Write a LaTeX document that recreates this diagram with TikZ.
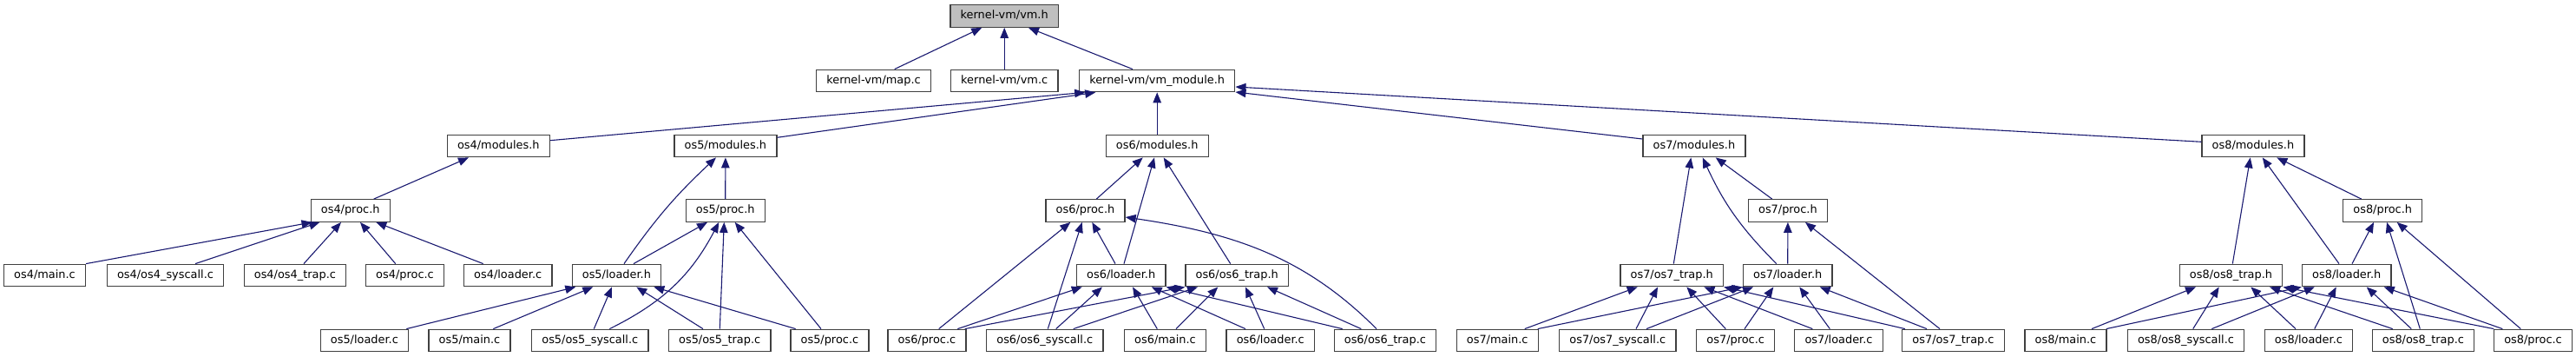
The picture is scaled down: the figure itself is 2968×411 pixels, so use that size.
\documentclass[tikz,border=0pt]{standalone}
\usepackage{fontspec}
\setmainfont{DejaVu Sans}
\usetikzlibrary{arrows.meta}
\definecolor{mblue}{HTML}{191970}
\definecolor{bgrey}{HTML}{404040}
\definecolor{rootfill}{HTML}{BFBFBF}
\tikzset{
  file/.style={draw=bgrey, line width=1.3pt, fill=white, minimum height=25.5pt,
    inner xsep=11.7pt, inner ysep=0pt, text height=9.6pt, text depth=2.6pt,
    font=\fontsize{12.9}{15}\selectfont},
  root/.style={file, fill=rootfill},
  edge/.style={draw=mblue, line width=1.1pt, -{Triangle[length=12pt,width=9.5pt]}}
}
\newcommand\E[4]{\draw[edge] ([xshift=#2pt]#1.north) -- ([xshift=#4pt]#3.south);}
\begin{document}
\begin{tikzpicture}[x=1pt,y=-1pt]
\useasboundingbox (0,0) rectangle (2968,411);
% row 0
\node[root] (vmh) at (1157.2,18.5) {kernel-vm/vm.h};
% row 1
\node[file] (mapc) at (1006.5,93) {kernel-vm/map.c};
\node[file] (vmc) at (1157.2,93) {kernel-vm/vm.c};
\node[file] (vmmod) at (1333.2,93) {kernel-vm/vm\_module.h};
% row 2
\node[file] (m4) at (574.3,168) {os4/modules.h};
\node[file] (m5) at (835.9,168) {os5/modules.h};
\node[file] (m6) at (1333.2,168) {os6/modules.h};
\node[file] (m7) at (1951.9,168) {os7/modules.h};
\node[file] (m8) at (2595.9,168) {os8/modules.h};
% row 3
\node[file] (p4) at (403.7,242.5) {os4/proc.h};
\node[file] (p5) at (835.7,242.5) {os5/proc.h};
\node[file] (p6) at (1250.5,242.5) {os6/proc.h};
\node[file] (p7) at (2059.9,242.5) {os7/proc.h};
\node[file] (p8) at (2745.2,242.5) {os8/proc.h};
% row 4
\node[file] (main4) at (51.5,317) {os4/main.c};
\node[file] (sys4) at (190.5,317) {os4/os4\_syscall.c};
\node[file] (trap4c) at (339.9,317) {os4/os4\_trap.c};
\node[file] (proc4c) at (466.5,317) {os4/proc.c};
\node[file] (loader4c) at (585.2,317) {os4/loader.c};
\node[file] (l5) at (710.4,317) {os5/loader.h};
\node[file] (l6) at (1291.7,317) {os6/loader.h};
\node[file] (t6) at (1425.2,317) {os6/os6\_trap.h};
\node[file] (t7) at (1926.2,317) {os7/os7\_trap.h};
\node[file] (l7) at (2059.7,317) {os7/loader.h};
\node[file] (t8) at (2570.5,317) {os8/os8\_trap.h};
\node[file] (l8) at (2703.7,317) {os8/loader.h};
% row 5
\node[file] (loader5c) at (419.9,392) {os5/loader.c};
\node[file] (main5c) at (541,392) {os5/main.c};
\node[file] (sys5c) at (679.8,392) {os5/os5\_syscall.c};
\node[file] (trap5c) at (829.2,392) {os5/os5\_trap.c};
\node[file] (proc5c) at (955.9,392) {os5/proc.c};
\node[file] (proc6c) at (1067.9,392) {os6/proc.c};
\node[file] (sys6c) at (1203.8,392) {os6/os6\_syscall.c};
\node[file] (main6c) at (1342.5,392) {os6/main.c};
\node[file] (loader6c) at (1463.8,392) {os6/loader.c};
\node[file] (trap6c) at (1595.9,392) {os6/os6\_trap.c};
\node[file] (main7c) at (1725.2,392) {os7/main.c};
\node[file] (sys7c) at (1863.8,392) {os7/os7\_syscall.c};
\node[file] (proc7c) at (1999.7,392) {os7/proc.c};
\node[file] (loader7c) at (2118.5,392) {os7/loader.c};
\node[file] (trap7c) at (2250.5,392) {os7/os7\_trap.c};
\node[file] (main8c) at (2379.9,392) {os8/main.c};
\node[file] (sys8c) at (2518.5,392) {os8/os8\_syscall.c};
\node[file] (loader8c) at (2659.9,392) {os8/loader.c};
\node[file] (trap8c) at (2791.9,392) {os8/os8\_trap.c};
\node[file] (proc8c) at (2918.5,392) {os8/proc.c};

% --- row1 -> vm.h
\E{mapc}{24.2}{vmh}{-26}
\E{vmc}{0}{vmh}{0}
\E{vmmod}{-28.2}{vmh}{27.8}
% --- modules -> vm_module.h
\draw[edge] ([yshift=6.3pt]m4.east) -- ([xshift=-83pt]vmmod.south);
\draw[edge] ([yshift=9.7pt]m5.east) -- ([xshift=-71pt]vmmod.south);
\E{m6}{0}{vmmod}{0}
\draw[edge] ([yshift=8pt]m7.west) -- ([yshift=-13pt]vmmod.east);
\draw[edge] ([yshift=4.7pt]m8.west) -- ([yshift=-7pt]vmmod.east);
% --- os4
\E{p4}{27}{m4}{-34.3}
\draw[edge] (main4.north east) -- ([xshift=2pt]p4.south west);
\E{sys4}{34.5}{p4}{-35.4}
\E{trap4c}{10.1}{p4}{-10.7}
\E{proc4c}{-10.8}{p4}{11.3}
\E{loader4c}{-28.5}{p4}{29.6}
% --- os5
\draw[edge] ([xshift=8.6pt]l5.north) to[bend left=6] ([xshift=-10.9pt]m5.south);
\E{p5}{0}{m5}{0}
\E{l5}{19.6}{p5}{-20.7}
\draw[edge] ([xshift=22.5pt]sys5c.north) to[bend right=18] ([xshift=-7.4pt]p5.south);
\E{trap5c}{0.1}{p5}{-1.4}
\E{proc5c}{-9.9}{p5}{11}
\E{loader5c}{48.4}{l5}{-47.1}
\E{main5c}{27.3}{l5}{-27.1}
\E{sys5c}{4.5}{l5}{-5.4}
\E{trap5c}{-19.2}{l5}{22.9}
\E{proc5c}{-39.2}{l5}{42.9}
% --- os6
\E{p6}{12.8}{m6}{-16.5}
\E{l6}{3.3}{m6}{-3.2}
\E{t6}{-7.5}{m6}{7.5}
\E{l6}{-6.7}{p6}{7.8}
\E{proc6c}{13.8}{p6}{-17.2}
\E{sys6c}{3.5}{p6}{-3.8}
\draw[edge] ([xshift=-9.9pt]trap6c.north) .. controls +(-80pt,80pt) and +(130pt,-19pt) .. ([yshift=-7.5pt]p6.east);
\E{proc6c}{35.4}{l6}{-45}
\draw[edge] ([xshift=43.8pt]proc6c.north) -- (t6.south west);
\E{sys6c}{12.9}{l6}{-21.7}
\E{sys6c}{32.9}{t6}{-45.2}
\E{main6c}{-9.2}{l6}{13.3}
\E{main6c}{12.5}{t6}{-21.9}
\E{loader6c}{-28.8}{l6}{35}
\E{loader6c}{-7.1}{t6}{9.8}
\draw[edge] ([xshift=-49.2pt]trap6c.north) -- (l6.south east);
\E{trap6c}{-27.6}{t6}{34.8}
% --- os7
\E{t7}{2.1}{m7}{-3.6}
\draw[edge] ([xshift=-13pt]l7.north) to[bend left=10] ([xshift=9.8pt]m7.south);
\E{p7}{-18.2}{m7}{24.8}
\E{l7}{0}{p7}{0}
\E{trap7c}{-15.5}{p7}{20.1}
\E{main7c}{31.5}{t7}{-39.5}
\draw[edge] ([xshift=46.5pt]main7c.north) -- (l7.south west);
\E{sys7c}{21.2}{t7}{-16.2}
\E{sys7c}{33.2}{l7}{-39.7}
\E{proc7c}{-11.4}{t7}{17.1}
\E{proc7c}{10.3}{l7}{-16.4}
\E{loader7c}{-30.2}{t7}{37.1}
\E{loader7c}{-10.2}{l7}{13.6}
\draw[edge] ([xshift=-55.5pt]trap7c.north) -- (t7.south east);
\E{trap7c}{-30.5}{l7}{37}
% --- os8
\E{t8}{1.8}{m8}{-3.2}
\E{l8}{-8.7}{m8}{10.8}
\E{p8}{-24.5}{m8}{27.4}
\E{l8}{6.3}{p8}{-10.2}
\E{trap8c}{-3.6}{p8}{4.8}
\E{proc8c}{-14.2}{p8}{16.5}
\E{main8c}{30.1}{t8}{-40.5}
\draw[edge] ([xshift=46.8pt]main8c.north) -- (l8.south west);
\E{sys8c}{8.2}{t8}{-13.8}
\E{sys8c}{29.8}{l8}{-37}
\E{loader8c}{-14.9}{t8}{22.8}
\E{loader8c}{6.8}{l8}{-12}
\E{trap8c}{-35.2}{t8}{44.5}
\E{trap8c}{-13.6}{l8}{23}
\draw[edge] ([xshift=-45.2pt]proc8c.north) -- (t8.south east);
\E{proc8c}{-35.2}{l8}{43}
\end{tikzpicture}
\end{document}
